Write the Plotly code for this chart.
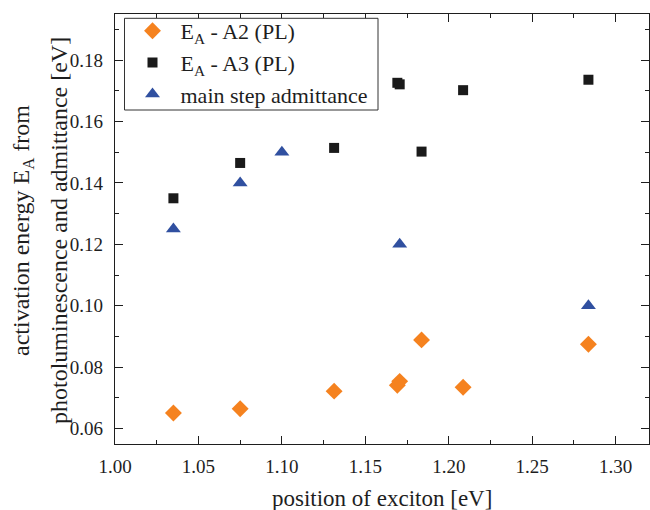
import plotly.graph_objects as go

# Data
x_a2 = [1.035, 1.075, 1.1313, 1.1692, 1.1706, 1.1837, 1.2086, 1.2837]
y_a2 = [0.0651, 0.0665, 0.0722, 0.0741, 0.0754, 0.0889, 0.0735, 0.0875]

x_a3 = [1.035, 1.075, 1.1313, 1.1692, 1.1706, 1.1837, 1.2086, 1.2837]
y_a3 = [0.1350, 0.1465, 0.1514, 0.1726, 0.1721, 0.1502, 0.1702, 0.1736]

x_adm = [1.035, 1.075, 1.100, 1.1706, 1.2837]
y_adm = [0.125, 0.140, 0.150, 0.120, 0.100]

x_title = "position of exciton [eV]"
ytitle_lines = ["activation energy E<sub>A</sub> from",
                "photoluminescence and admittance [eV]"]

FONT = "Liberation Serif, Times New Roman, serif"
TXT = "#1e1e1e"

fig = go.Figure()
fig.add_trace(go.Scatter(x=x_a2, y=y_a2, mode="markers", name="E<sub>A</sub> - A2 (PL)",
                         marker=dict(symbol="diamond", size=13, color="#F5821F")))
fig.add_trace(go.Scatter(x=x_a3, y=y_a3, mode="markers", name="E<sub>A</sub> - A3 (PL)",
                         marker=dict(symbol="square", size=10, color="#1a1a1a")))
fig.add_trace(go.Scatter(x=x_adm, y=y_adm, mode="markers", name="main step admittance",
                         marker=dict(symbol="triangle-up", size=13, color="#3050A0")))

axis_common = dict(showline=True, linecolor=TXT, linewidth=1.4, mirror="ticks",
                   ticks="inside", ticklen=8, tickwidth=1.2, tickcolor=TXT, showgrid=False,
                   zeroline=False, automargin=False,
                   tickfont=dict(family=FONT, size=19, color=TXT))

fig.update_xaxes(range=[1.0, 1.32], dtick=0.05, tickformat=".2f", ticklabelstandoff=5,
                 minor=dict(dtick=0.025, ticks="inside", ticklen=4, tickwidth=1.2, tickcolor=TXT),
                 **axis_common)
fig.update_yaxes(range=[0.055, 0.195], dtick=0.02, tickformat=".2f", ticklabelstandoff=7,
                 minor=dict(dtick=0.01, ticks="inside", ticklen=4, tickwidth=1.2, tickcolor=TXT),
                 **axis_common)

L, R, T, B = 115, 1, 14, 66
W, H = 650, 510
pw = W - L - R
ph = H - T - B


def px_x(p):
    return (p - L) / pw


def px_y(p):
    return (ph - (p - T)) / ph


fig.add_annotation(text=x_title, xref="paper", yref="paper",
                   x=0.5, y=px_y(498), xanchor="center", yanchor="middle",
                   showarrow=False, font=dict(family=FONT, size=23, color=TXT))
for txt, px in zip(ytitle_lines, [23, 59]):
    fig.add_annotation(text=txt, xref="paper", yref="paper",
                       x=px_x(px), y=px_y(231), xanchor="center", yanchor="middle",
                       textangle=-90, showarrow=False,
                       font=dict(family=FONT, size=24, color=TXT))

# legend frame
fig.add_shape(type="rect", xref="paper", yref="paper", layer="above",
              x0=px_x(124.5), x1=px_x(378), y0=px_y(110), y1=px_y(18.3),
              line=dict(color="#333", width=1), fillcolor="white")

fig.update_layout(
    width=W, height=H,
    margin=dict(l=L, r=R, t=T, b=B),
    paper_bgcolor="white", plot_bgcolor="white",
    showlegend=True,
    legend=dict(x=px_x(124.5), y=px_y(10), xanchor="left", yanchor="top",
                bgcolor="rgba(0,0,0,0)", borderwidth=0,
                font=dict(family=FONT, size=22, color=TXT),
                tracegroupgap=0, itemwidth=46),
)

fig.write_html("out.html", config={"displayModeBar": False},
               post_script="document.body.style.margin='0';")
